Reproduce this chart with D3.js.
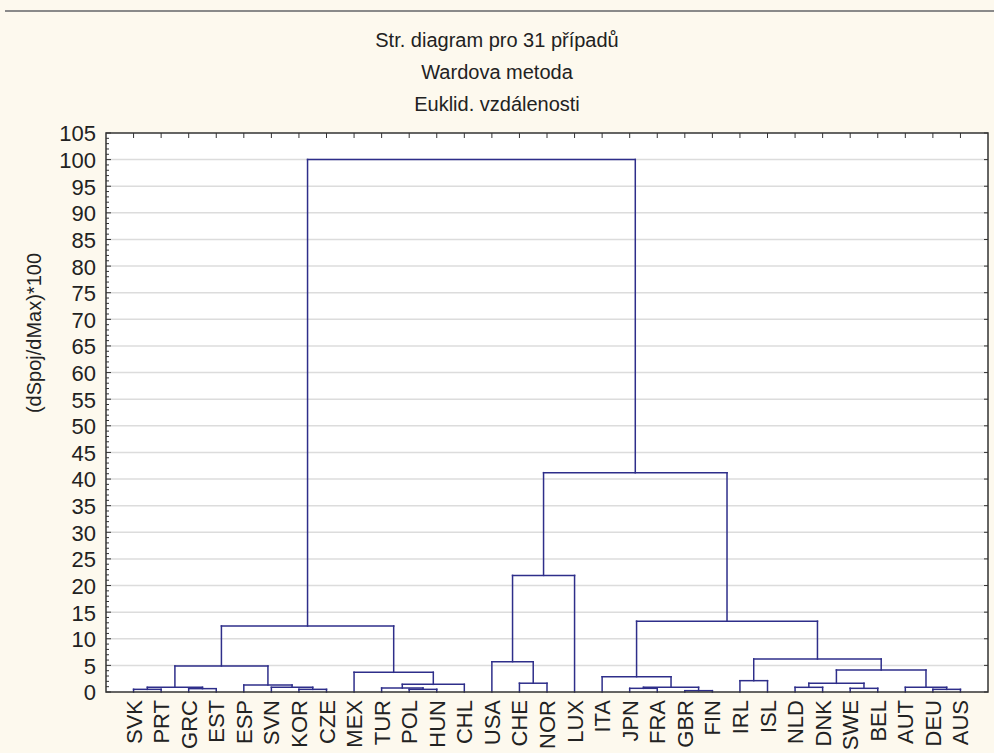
<!DOCTYPE html>
<html lang="cs">
<head>
<meta charset="utf-8">
<title>Str. diagram</title>
<style>
  body { margin: 0; background: #fdf9ee; }
  svg { display: block; }
  text { font-family: "Liberation Sans", Arial, sans-serif; fill: #222; }
</style>
</head>
<body>
<div id="chart"></div>
<script src="https://d3js.org/d3.v7.min.js"></script>
<script>
// --- data ---
var titleLines = ["Str. diagram pro 31 případů", "Wardova metoda", "Euklid. vzdálenosti"];
var yLabel = "(dSpoj/dMax)*100";

var leaves = ["SVK", "PRT", "GRC", "EST", "ESP", "SVN", "KOR", "CZE", "MEX", "TUR", "POL", "HUN", "CHL",
              "USA", "CHE", "NOR", "LUX", "ITA", "JPN", "FRA", "GBR", "FIN", "IRL", "ISL", "NLD", "DNK",
              "SWE", "BEL", "AUT", "DEU", "AUS"];

// [id, left child, right child, linkage distance]
var merges = [
  ["m1", "GBR", "FIN", 0.25],
  ["m2", "SVK", "PRT", 0.5],
  ["m3", "KOR", "CZE", 0.5],
  ["m4", "POL", "HUN", 0.5],
  ["m5", "DEU", "AUS", 0.5],
  ["m6", "GRC", "EST", 0.63],
  ["m7", "JPN", "FRA", 0.69],
  ["m8", "SWE", "BEL", 0.69],
  ["m9", "TUR", "m4", 0.75],
  ["m10", "m2", "m6", 0.88],
  ["m11", "SVN", "m3", 0.88],
  ["m12", "m7", "m1", 0.88],
  ["m13", "NLD", "DNK", 0.88],
  ["m14", "AUT", "m5", 0.88],
  ["m15", "ESP", "m11", 1.31],
  ["m16", "m9", "CHL", 1.44],
  ["m17", "CHE", "NOR", 1.65],
  ["m18", "m13", "m8", 1.63],
  ["m19", "IRL", "ISL", 2.13],
  ["m20", "ITA", "m12", 2.88],
  ["m21", "MEX", "m16", 3.7],
  ["m22", "m18", "m14", 4.13],
  ["m23", "m10", "m15", 4.9],
  ["m24", "USA", "m17", 5.7],
  ["m25", "m19", "m22", 6.2],
  ["m26", "m23", "m21", 12.4],
  ["m27", "m20", "m25", 13.3],
  ["m28", "m24", "LUX", 21.9],
  ["m29", "m28", "m27", 41.2],
  ["m30", "m26", "m29", 100]
];

var yTicks = d3.range(0, 106, 5);

// --- layout ---
var width = 994, height = 753;
var margin = {left: 106, right: 6, top: 133, bottom: 61};

var svg = d3.select("#chart").append("svg")
    .attr("width", width)
    .attr("height", height);

svg.append("rect").attr("width", width).attr("height", height).attr("fill", "#fdf9ee");
svg.append("line")
    .attr("x1", 5).attr("x2", width).attr("y1", 11).attr("y2", 11)
    .attr("stroke", "#8a8a8a").attr("stroke-width", 2);

var x = d3.scalePoint()
    .domain(leaves)
    .range([margin.left, width - margin.right])
    .padding(1);

var y = d3.scaleLinear()
    .domain([0, 105])
    .range([height - margin.bottom, margin.top]);

var x0 = margin.left, x1 = width - margin.right, yTop = margin.top, yBot = height - margin.bottom;

// plot area
svg.append("rect")
    .attr("x", x0).attr("y", yTop)
    .attr("width", x1 - x0).attr("height", yBot - yTop)
    .attr("fill", "#fff");

// grid
svg.append("g").selectAll("line")
  .data(yTicks.filter(function(d) { return d > 0 && d < 105; }))
  .enter().append("line")
    .attr("x1", x0).attr("x2", x1)
    .attr("y1", function(d) { return y(d); })
    .attr("y2", function(d) { return y(d); })
    .attr("stroke", "#dcdcdc").attr("stroke-width", 1.5);

// titles
svg.append("g").selectAll("text")
  .data(titleLines)
  .enter().append("text")
    .attr("x", width / 2)
    .attr("y", function(d, i) { return 47 + i * 32; })
    .attr("text-anchor", "middle")
    .style("font-size", "20px")
    .text(function(d) { return d; });

// left axis: major + minor ticks inward
var yAxisL = svg.append("g").attr("transform", "translate(" + x0 + ",0)");
yAxisL.call(d3.axisLeft(y).tickValues(yTicks).tickSize(0).tickPadding(10));
yAxisL.select(".domain").remove();
yAxisL.selectAll("text").style("font-size", "22px").attr("fill", "#222").attr("dy", "0.36em");
yAxisL.selectAll(".minor")
  .data(d3.range(0, 106, 1))
  .enter().append("line")
    .attr("class", "minor")
    .attr("x1", 0)
    .attr("x2", function(d) { return d % 5 === 0 ? 5 : 3; })
    .attr("y1", function(d) { return y(d); })
    .attr("y2", function(d) { return y(d); })
    .attr("stroke", "#333");

// right axis ticks
svg.append("g").selectAll("line")
  .data(yTicks)
  .enter().append("line")
    .attr("x1", x1 - 4).attr("x2", x1)
    .attr("y1", function(d) { return y(d); })
    .attr("y2", function(d) { return y(d); })
    .attr("stroke", "#333");

// top axis ticks at leaf positions
svg.append("g").selectAll("line")
  .data(leaves)
  .enter().append("line")
    .attr("x1", function(d) { return x(d); })
    .attr("x2", function(d) { return x(d); })
    .attr("y1", yTop).attr("y2", yTop + 5)
    .attr("stroke", "#333");

// dendrogram
var node = {};
leaves.forEach(function(d) { node[d] = {x: x(d), h: 0}; });
var seg = [];
merges.forEach(function(m) {
  var a = node[m[1]], b = node[m[2]], h = m[3];
  seg.push([a.x, a.h, a.x, h]);
  seg.push([b.x, b.h, b.x, h]);
  seg.push([a.x, h, b.x, h]);
  node[m[0]] = {x: (a.x + b.x) / 2, h: h};
});

svg.append("g").selectAll("line")
  .data(seg)
  .enter().append("line")
    .attr("x1", function(d) { return d[0]; })
    .attr("y1", function(d) { return y(d[1]); })
    .attr("x2", function(d) { return d[2]; })
    .attr("y2", function(d) { return y(d[3]); })
    .attr("stroke", "#2e2e8a")
    .attr("stroke-width", 1.5)
    .attr("stroke-linecap", "square");

// frame
svg.append("rect")
    .attr("x", x0).attr("y", yTop)
    .attr("width", x1 - x0).attr("height", yBot - yTop)
    .attr("fill", "none").attr("stroke", "#333").attr("stroke-width", 1.5);

// leaf labels
svg.append("g").selectAll("text")
  .data(leaves)
  .enter().append("text")
    .attr("transform", function(d) { return "translate(" + (x(d) + 8) + "," + (yBot + 8) + ") rotate(-90)"; })
    .attr("text-anchor", "end")
    .style("font-size", "22px")
    .text(function(d) { return d; });

// y label
svg.append("text")
    .attr("transform", "translate(41,333) rotate(-90)")
    .attr("text-anchor", "middle")
    .style("font-size", "20px")
    .text(yLabel);
</script>
</body>
</html>
